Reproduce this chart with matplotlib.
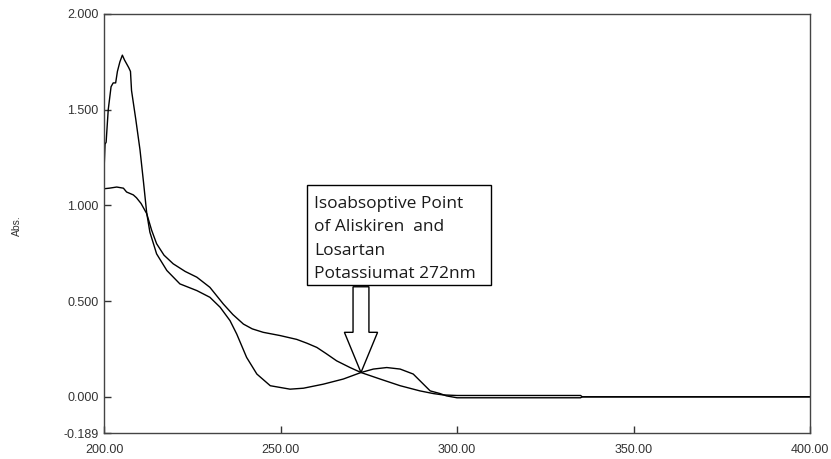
import matplotlib
matplotlib.use("Agg")
import matplotlib.pyplot as plt
from matplotlib.patches import FancyArrow, Rectangle

# ---- data ----
wl_a = [200.0, 200.3, 200.6, 201.2, 202.0, 202.6, 203.3, 203.8, 204.5, 205.2,
        205.8, 206.4, 207.0, 207.5, 207.8, 209.0, 210.2, 211.2, 212.1, 213.0,
        214.9, 217.8, 221.5, 226.3, 230.0, 232.9, 235.7, 237.6, 240.4, 243.3,
        247.1, 252.7, 256.5, 262.1, 267.8, 272.8, 276.3, 280.1, 283.9, 287.6,
        290.0, 292.4, 295.2, 297.0, 300.0, 335.0, 335.5, 372.0, 400.0]
abs_a = [1.18, 1.32, 1.33, 1.50, 1.62, 1.64, 1.64, 1.70, 1.75, 1.785,
         1.76, 1.74, 1.72, 1.70, 1.60, 1.45, 1.29, 1.12, 0.96, 0.86,
         0.747, 0.66, 0.59, 0.555, 0.52, 0.468, 0.398, 0.328, 0.206, 0.119,
         0.058, 0.040, 0.045, 0.066, 0.093, 0.127, 0.145, 0.153, 0.145, 0.119,
         0.075, 0.031, 0.017, 0.005, -0.005, -0.005, 0.0, 0.0, 0.0]

wl_b = [200.0, 201.5, 203.6, 205.5, 206.4, 208.3, 209.2, 210.5, 212.1, 213.5,
        214.9, 217.0, 219.6, 223.0, 226.3, 230.0, 233.8, 236.5, 239.5, 242.0,
        245.1, 249.9, 254.6, 257.5, 260.3, 263.0, 265.9, 269.7, 272.8, 278.2,
        283.9, 289.5, 293.3, 296.0, 300.0, 335.0, 335.5, 400.0]
abs_b = [1.087, 1.09, 1.096, 1.09, 1.07, 1.055, 1.04, 1.01, 0.957, 0.87,
         0.80, 0.74, 0.695, 0.655, 0.625, 0.572, 0.485, 0.43, 0.38, 0.355,
         0.337, 0.32, 0.30, 0.28, 0.258, 0.225, 0.188, 0.153, 0.127, 0.093,
         0.058, 0.031, 0.017, 0.010, 0.007, 0.007, 0.0, 0.0]

x_ticks = [200, 250, 300, 350, 400]
y_ticks = [-0.189, 0.0, 0.5, 1.0, 1.5, 2.0]
iso_point = (272.8, 0.127)
note_text = "Isoabsoptive Point\nof Aliskiren  and\nLosartan\nPotassiumat 272nm"

# ---- figure ----
fig = plt.figure(figsize=(8.31, 4.59), dpi=100)
ax = fig.add_axes([104 / 831, 1 - 433 / 459, (810 - 104) / 831, (433 - 14) / 459])

ax.plot(wl_a, abs_a, color="black", lw=1.0)
ax.plot(wl_b, abs_b, color="black", lw=1.0)

ax.set_xlim(200, 400)
ax.set_ylim(-0.189, 2.0)
ax.set_xticks(x_ticks)
ax.set_xticklabels([f"{v:.2f}" for v in x_ticks])
ax.set_yticks(y_ticks)
ax.set_yticklabels([f"{v:.3f}" for v in y_ticks])

for lab in ax.get_xticklabels() + ax.get_yticklabels():
    lab.set_fontfamily("Liberation Sans")
    lab.set_fontsize(9)
    lab.set_color("#333333")

ax.tick_params(axis="both", direction="in", length=5, width=1.0, color="#333333")
ax.tick_params(axis="x", pad=8)
ax.tick_params(axis="y", pad=4)
for s in ax.spines.values():
    s.set_color("#444444")
    s.set_linewidth(1.0)

fig.text(17 / 831, 1 - 226 / 459, "Abs.", rotation=90, ha="center", va="center",
         fontsize=7.5, family="Liberation Sans", color="#333333")

# annotation box
ax.add_patch(Rectangle((257.5, 0.586), 309.6 - 257.5, 1.105 - 0.586,
                       fc="white", ec="black", lw=1.0, zorder=4))
ax.text(259.6, 1.05, note_text, ha="left", va="top", fontsize=12.5,
        family="Open Sans", color="#1a1a1a", linespacing=1.62, zorder=6)

# hollow block arrow pointing to the isoabsorptive point
y_start = 0.575
arrow = FancyArrow(iso_point[0], y_start, 0, iso_point[1] - y_start,
                   width=4.5, head_width=9.4, head_length=0.21,
                   length_includes_head=True, fc="white", ec="black", lw=1.0,
                   zorder=5)
ax.add_patch(arrow)

fig.savefig("out.png", dpi=100)
